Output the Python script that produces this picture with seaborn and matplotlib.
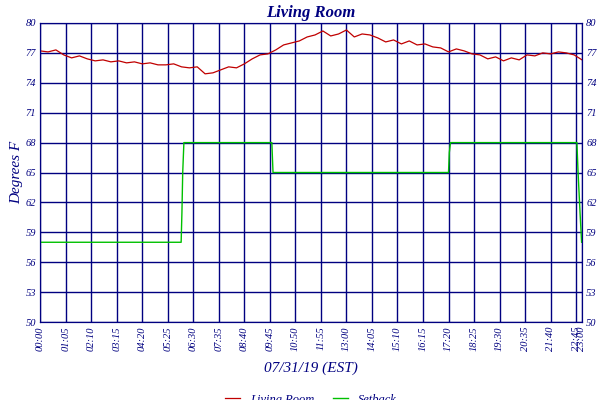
import matplotlib
matplotlib.use("Agg")
import matplotlib.pyplot as plt
import seaborn as sns
import pandas as pd

room_minutes = list(range(0, 1381, 20))
room_temps = [77.2,77.1,77.3,76.8,76.5,76.7,76.4,76.2,76.3,76.1,76.2,76.0,76.1,75.9,76.0,75.8,75.8,75.9,75.6,75.5,
              75.6,74.9,75.0,75.3,75.6,75.5,75.9,76.4,76.8,76.9,77.3,77.8,78.0,78.2,78.6,78.8,79.2,78.7,78.9,79.3,
              78.6,78.9,78.8,78.5,78.1,78.3,77.9,78.2,77.8,77.9,77.6,77.5,77.1,77.4,77.2,76.9,76.8,76.4,76.6,76.2,
              76.5,76.3,76.8,76.7,77.0,76.9,77.1,77.0,76.8,76.3]
setback_minutes = [0, 359, 361, 363, 366, 590, 593, 1040, 1042, 1045, 1367, 1370, 1375, 1379]
setback_temps = [58, 58, 61, 65, 68, 68, 65, 65, 67, 68, 68, 65, 61, 58]
tick_minutes = list(range(0, 1366, 65)) + [1380]
tick_labels = ["00:00","01:05","02:10","03:15","04:20","05:25","06:30","07:35","08:40","09:45","10:50",
               "11:55","13:00","14:05","15:10","16:15","17:20","18:25","19:30","20:35","21:40","22:45","23:00"]
y_ticks = [50, 53, 56, 59, 62, 65, 68, 71, 74, 77, 80]

navy = "#000080"
room = pd.DataFrame({"t": room_minutes, "v": room_temps})
sb = pd.DataFrame({"t": setback_minutes, "v": setback_temps})

fig = plt.figure(figsize=(6, 4), dpi=100)
ax = fig.add_axes([0.067, 0.195, 0.903, 0.7475])
sns.lineplot(data=room, x="t", y="v", ax=ax, color="#c00000", lw=0.9, label="Living Room")
sns.lineplot(data=sb, x="t", y="v", ax=ax, color="#00c000", lw=1.0, label="Setback")
ax.set_xlim(0, 1380); ax.set_ylim(50, 80)
ax.set_xticks(tick_minutes); ax.set_yticks(y_ticks)
font = dict(family="Liberation Serif", style="italic", color=navy)
ax.set_xticklabels(tick_labels, rotation=90, fontsize=7.5, **font)
ax.set_yticklabels([str(v) for v in y_ticks], fontsize=7.5, **font)
ax.tick_params(length=0, pad=3)
ax.grid(True, color=navy, lw=1)
for s in ax.spines.values():
    s.set_color(navy)
ax2 = ax.twinx()
ax2.set_ylim(50, 80); ax2.set_yticks(y_ticks)
ax2.set_yticklabels([str(v) for v in y_ticks], fontsize=7.5, **font)
ax2.tick_params(length=0, pad=3)
for s in ax2.spines.values():
    s.set_color(navy)
ax.set_xlabel("07/31/19 (EST)", fontsize=11, labelpad=8, **font)
ax.set_ylabel("Degrees F", fontsize=11, labelpad=2, **font)
ax.set_title("Living Room", fontsize=12, pad=4, fontweight="bold", **font)
leg = ax.legend(loc="upper center", bbox_to_anchor=(0.5, -0.215), ncol=2, frameon=False,
                prop=dict(family="Liberation Serif", style="italic", size=9), handlelength=1.2,
                columnspacing=1.5, borderpad=0.1)
for t in leg.get_texts():
    t.set_color(navy)
fig.savefig("out.png", dpi=100, facecolor="white")
